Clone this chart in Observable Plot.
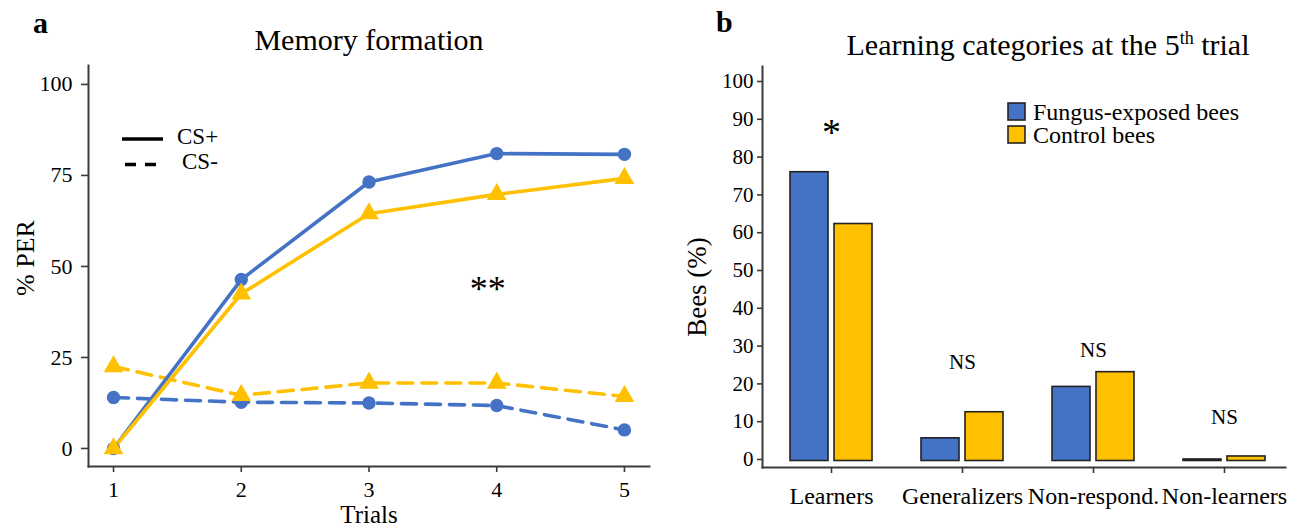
<!DOCTYPE html>
<html>
<head>
<meta charset="utf-8">
<script src="https://cdn.jsdelivr.net/npm/d3@7"></script>
<script src="https://cdn.jsdelivr.net/npm/@observablehq/plot@0.6"></script>
<style>
  html, body { margin: 0; padding: 0; background: #fff; }
  #wrap { position: relative; width: 1311px; height: 528px; overflow: hidden; font-family: "Liberation Serif", "Times New Roman", serif; }
  .panel { position: absolute; top: 0; }
  #overlay { position: absolute; left: 0; top: 0; pointer-events: none; }
</style>
</head>
<body>
<div id="wrap">
  <div id="left" class="panel" style="left:0px"></div>
  <div id="right" class="panel" style="left:660px"></div>
</div>
<script>
// ---------- Data: panel a (Memory formation) ----------
const trials = [1, 2, 3, 4, 5];
const fungusCSplus   = [0, 46.4, 73.2, 81.0, 80.8];
const controlCSplus  = [0, 42.5, 64.5, 69.8, 74.2];
const fungusCSminus  = [14.0, 12.7, 12.5, 11.8, 5.1];
const controlCSminus = [22.5, 14.6, 18.0, 18.0, 14.3];
const stimuli = ["CS+", "CS-"];
const leftYTicks = [0, 25, 50, 75, 100];
const leftSigTrial = [3.93];
const leftSigValue = [45.5];
const leftSigLabel = ["**"];

// ---------- Data: panel b (Learning categories) ----------
const groups = ["Fungus-exposed bees", "Control bees"];
const groupColors = ["#4472C4", "#FFC000"];
const categories = ["Learners", "Generalizers", "Non-respond.", "Non-learners"];
const fungusPct  = [76.0, 5.6, 19.2, 0];
const controlPct = [62.3, 12.5, 23.1, 0.8];
const rightYTicks = [0, 10, 20, 30, 40, 50, 60, 70, 80, 90, 100];
const rightSigCategory = ["Learners", "Generalizers", "Non-respond.", "Non-learners"];
const rightSigValue = [88.2, 25.7, 28.8, 11.1];
const rightSigLabel = ["*", "NS", "NS", "NS"];

// ---------- Tables built from the arrays ----------
const lineRows = [];
trials.forEach((t, i) => {
  lineRows.push({trial: t, value: fungusCSplus[i], group: groups[0], stim: stimuli[0]});
  lineRows.push({trial: t, value: controlCSplus[i], group: groups[1], stim: stimuli[0]});
  lineRows.push({trial: t, value: fungusCSminus[i], group: groups[0], stim: stimuli[1]});
  lineRows.push({trial: t, value: controlCSminus[i], group: groups[1], stim: stimuli[1]});
});
const leftSig = leftSigTrial.map((t, i) => ({trial: t, value: leftSigValue[i], label: leftSigLabel[i]}));
const barRows = categories.map((c, i) => ({category: c, fungus: fungusPct[i], control: controlPct[i]}));
const rightSig = rightSigCategory.map((c, i) => ({category: c, value: rightSigValue[i], label: rightSigLabel[i]}));

const serif = "'Liberation Serif', 'Times New Roman', serif";
const axisGray = "#3a3a3a";
const colorScale = {domain: groups, range: groupColors};

// ---------- Panel a ----------
const leftPlot = Plot.plot({
  width: 655, height: 528,
  marginLeft: 88, marginRight: 6, marginTop: 65, marginBottom: 62,
  style: {fontFamily: serif, fontSize: "22px", color: "#000", background: "transparent", overflow: "visible"},
  x: {domain: [0.804, 5.196]},
  y: {domain: [-4.95, 105.2]},
  color: colorScale,
  marks: [
    Plot.axisY({ticks: leftYTicks, tickSize: 7, tickPadding: 9, stroke: axisGray, strokeWidth: 1.6, label: null, fontFamily: serif, fontSize: 22, tickFormat: d => String(d)}),
    Plot.axisX({ticks: trials, tickSize: 6, tickPadding: 9, stroke: axisGray, strokeWidth: 1.6, label: null, fontFamily: serif, fontSize: 22, tickFormat: d => String(d)}),
    Plot.frame({anchor: "left", stroke: axisGray, strokeWidth: 2}),
    Plot.frame({anchor: "bottom", stroke: axisGray, strokeWidth: 2}),
    Plot.line(lineRows.filter(d => d.stim === stimuli[1]), {x: "trial", y: "value", z: "group", stroke: "group", strokeWidth: 3.6, strokeDasharray: "15,9"}),
    Plot.line(lineRows.filter(d => d.stim === stimuli[0]), {x: "trial", y: "value", z: "group", stroke: "group", strokeWidth: 3.6}),
    Plot.dot(lineRows.filter(d => d.group === groups[0]), {x: "trial", y: "value", fill: "group", symbol: "circle", r: 6.7}),
    Plot.dot(lineRows.filter(d => d.group === groups[1]), {x: "trial", y: "value", fill: "group", symbol: "triangle", r: 7.3}),
    Plot.text(leftSig, {x: "trial", y: "value", text: "label", fontFamily: serif, fontSize: 36, dy: 7, fill: "#000"}),
    Plot.text(["% PER"], {text: d => d, frameAnchor: "left", textAnchor: "middle", lineAnchor: "middle", dx: -63, dy: -8, rotate: -90, fontFamily: serif, fontSize: 26, fill: "#000"}),
    Plot.text(["Trials"], {text: d => d, frameAnchor: "bottom", textAnchor: "middle", lineAnchor: "middle", dy: 48, fontFamily: serif, fontSize: 25, fill: "#000"})
  ]
});
document.getElementById("left").appendChild(leftPlot);

// ---------- Panel b ----------
const baseline = -0.4;
const rightPlot = Plot.plot({
  width: 651, height: 528,
  marginLeft: 102, marginRight: 26, marginTop: 66, marginBottom: 61,
  style: {fontFamily: serif, fontSize: "21px", color: "#000", background: "transparent", overflow: "visible"},
  x: {domain: categories, range: [106.5, 629.5], paddingInner: 0.371, paddingOuter: 0.167},
  y: {domain: [-2.12, 103.97]},
  color: colorScale,
  marks: [
    Plot.axisY({ticks: rightYTicks, tickSize: 5, tickPadding: 4, stroke: axisGray, strokeWidth: 1.6, label: null, fontFamily: serif, fontSize: 21, tickFormat: d => String(d)}),
    Plot.axisX({tickSize: 6, tickPadding: 13, fontFamily: serif, fontSize: 24, stroke: axisGray, strokeWidth: 1.6, label: null}),
    Plot.frame({anchor: "left", stroke: axisGray, strokeWidth: 2}),
    Plot.frame({anchor: "bottom", stroke: axisGray, strokeWidth: 2}),
    Plot.barY(barRows, {x: "category", y1: () => baseline, y2: "fungus", fill: () => groups[0], stroke: "#222", strokeWidth: 1.6, insetRight: 44}),
    Plot.barY(barRows, {x: "category", y1: () => baseline, y2: "control", fill: () => groups[1], stroke: "#222", strokeWidth: 1.6, insetLeft: 44}),
    Plot.text(rightSig.filter(d => d.label === "*"), {x: "category", y: "value", text: "label", fontFamily: serif, fontSize: 38, dy: 7, fill: "#000"}),
    Plot.text(rightSig.filter(d => d.label !== "*"), {x: "category", y: "value", text: "label", fontFamily: serif, fontSize: 21, fill: "#000"}),
    Plot.text(["Bees (%)"], {text: d => d, frameAnchor: "left", textAnchor: "middle", lineAnchor: "middle", dx: -65, dy: 20, rotate: -90, fontFamily: serif, fontSize: 27, fill: "#000"})
  ]
});
document.getElementById("right").appendChild(rightPlot);

// ---------- Titles, panel letters and legends ----------
const ov = d3.select("#wrap").append("svg").attr("id", "overlay")
  .attr("width", 1311).attr("height", 528)
  .style("font-family", serif);

ov.append("text").attr("x", 33).attr("y", 33).attr("font-size", 30).attr("font-weight", "bold").text("a");
ov.append("text").attr("x", 369).attr("y", 50).attr("font-size", 30).attr("text-anchor", "middle").text("Memory formation");
ov.append("text").attr("x", 716).attr("y", 32).attr("font-size", 30).attr("font-weight", "bold").text("b");
const t2 = ov.append("text").attr("x", 1048).attr("y", 55).attr("font-size", 30).attr("text-anchor", "middle");
t2.append("tspan").text("Learning categories at the 5");
t2.append("tspan").attr("font-size", 18).attr("dy", -11).text("th");
t2.append("tspan").attr("dy", 11).text(" trial");

// line-type legend (panel a)
const lineLegend = [
  {label: stimuli[0], dash: null, y: 139, tx: 177},
  {label: stimuli[1], dash: "11,9", y: 164.5, tx: 182}
];
lineLegend.forEach(d => {
  ov.append("line").attr("x1", d.dash ? 125 : 122).attr("x2", d.dash ? 156 : 163)
    .attr("y1", d.y).attr("y2", d.y).attr("stroke", "#000").attr("stroke-width", 3.5)
    .attr("stroke-dasharray", d.dash);
  ov.append("text").attr("x", d.tx).attr("y", d.y + 4.5).attr("font-size", 23).text(d.label);
});

// colour legend (panel b)
groups.forEach((g, i) => {
  const y = 103 + i * 23;
  ov.append("rect").attr("x", 1008).attr("y", y).attr("width", 17).attr("height", 17)
    .attr("fill", groupColors[i]).attr("stroke", "#222").attr("stroke-width", 1.6);
  ov.append("text").attr("x", 1033).attr("y", y + 17).attr("font-size", 24).text(g);
});
</script>
</body>
</html>
